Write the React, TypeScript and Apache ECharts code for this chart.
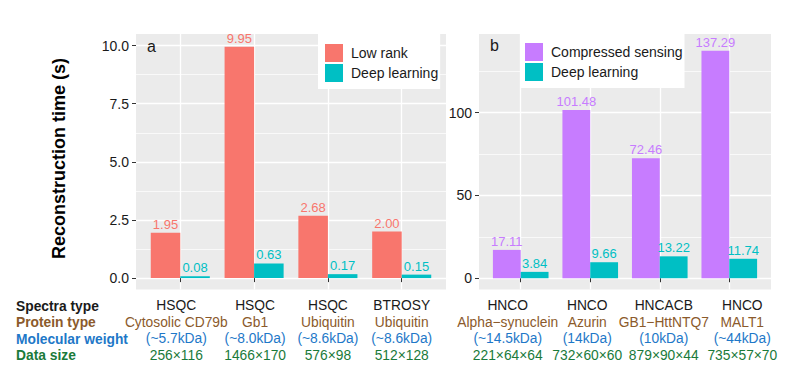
import React, { useEffect, useRef } from "react";
import * as echarts from "echarts";

// ---------- data ----------
const spectraA = ["HSQC", "HSQC", "HSQC", "BTROSY"];
const proteinA = ["Cytosolic CD79b", "Gb1", "Ubiquitin", "Ubiquitin"];
const weightA = ["(~5.7kDa)", "(~8.0kDa)", "(~8.6kDa)", "(~8.6kDa)"];
const sizeA = ["256×116", "1466×170", "576×98", "512×128"];
const lowRank = [1.95, 9.95, 2.68, 2.0];
const deepA = [0.08, 0.63, 0.17, 0.15];

const spectraB = ["HNCO", "HNCO", "HNCACB", "HNCO"];
const proteinB = ["Alpha−synuclein", "Azurin", "GB1−HttNTQ7", "MALT1"];
const weightB = ["(~14.5kDa)", "(14kDa)", "(10kDa)", "(~44kDa)"];
const sizeB = ["221×64×64", "732×60×60", "879×90×44", "735×57×70"];
const compressed = [17.11, 101.48, 72.46, 137.29];
const deepB = [3.84, 9.66, 13.22, 11.74];

const yTicksA = [0, 2.5, 5, 7.5, 10];
const yMinorA = [1.25, 3.75, 6.25, 8.75];
const yTicksB = [0, 50, 100];
const yMinorB = [25, 75, 125];

const rowNames = ["Spectra type", "Protein type", "Molecular weight", "Data size"];

// ---------- style / layout ----------
const FONT = "'Liberation Sans', Arial, sans-serif";
const C_LOW = "#F8766D";
const C_DEEP = "#00BFC4";
const C_CS = "#C77CFF";
const ROW_COLORS = ["#1a1a1a", "#8B5A2B", "#1E78C8", "#1A7A3A"];
const BG = "#EBEBEB";
const LABEL_FS = 13.8;
const LINE_H = 16.5;
// horizontal nudge (px) of each category label block, as in the reference
const shiftA = [-4, 1, 0, 0];
const shiftB = [-13, -3, 4, 13];

const catPos = [1, 2, 3, 4];
const X_MIN = 0.4;
const X_MAX = 4.6;

function pairs(vals: number[]) {
  return vals.map((v, i) => [catPos[i], v]);
}

function makeRich(shift: number[]) {
  const r: any = {};
  ["a", "b", "c", "d"].forEach((k, row) => {
    shift.forEach((s, i) => {
      r[k + i] = {
        color: ROW_COLORS[row],
        fontSize: LABEL_FS,
        lineHeight: LINE_H,
        fontFamily: FONT,
        padding: s >= 0 ? [0, 0, 0, 2 * s] : [0, -2 * s, 0, 0],
      };
    });
  });
  return r;
}

function xLabel(spectra: string[], protein: string[], weight: string[], size: string[]) {
  return (v: number) => {
    const i = Math.round(v) - 1;
    if (i < 0 || i > 3 || Math.abs(v - Math.round(v)) > 1e-6) return "";
    return `{a${i}|${spectra[i]}}\n{b${i}|${protein[i]}}\n{c${i}|${weight[i]}}\n{d${i}|${size[i]}}`;
  };
}

function makeX(gridIndex: number, fmt: (v: number) => string, shift: number[]) {
  return {
    type: "value",
    gridIndex,
    min: X_MIN,
    max: X_MAX,
    axisLine: { show: false },
    axisTick: { show: true, length: 4, customValues: catPos, lineStyle: { color: "#333", width: 1 } },
    axisLabel: {
      // empty sentinel labels at both ends so that no real label is dropped
      customValues: [X_MIN, ...catPos, X_MAX],
      formatter: fmt,
      margin: 8,
      rich: makeRich(shift),
      align: "center",
      hideOverlap: false,
      showMinLabel: false,
      showMaxLabel: false,
    },
    splitLine: { show: true, lineStyle: { color: "#fff", width: 1.3 } },
  };
}

function makeYMajor(gridIndex: number, min: number, max: number, ticks: number[], fmt: (v: number) => string) {
  return {
    type: "value",
    gridIndex,
    min,
    max,
    axisLine: { show: false },
    axisTick: { show: true, length: 4, customValues: ticks, lineStyle: { color: "#333", width: 1 } },
    axisLabel: {
      customValues: ticks,
      formatter: fmt,
      margin: 7,
      color: "#1a1a1a",
      fontSize: 14,
      fontFamily: FONT,
      hideOverlap: false,
    },
    splitLine: { show: true, lineStyle: { color: "#fff", width: 1.3 } },
  };
}

function makeYMinor(gridIndex: number, min: number, max: number, ticks: number[]) {
  return {
    type: "value",
    gridIndex,
    min,
    max,
    axisLine: { show: false },
    axisTick: { show: false, customValues: ticks },
    axisLabel: { show: false, customValues: ticks },
    splitLine: { show: true, lineStyle: { color: "#fff", width: 0.7 } },
  };
}

function barSeries(name: string, vals: number[], color: string, xi: number, yi: number) {
  return {
    name,
    type: "bar",
    xAxisIndex: xi,
    yAxisIndex: yi,
    data: pairs(vals),
    barWidth: "40%",
    barGap: "0%",
    itemStyle: { color },
    label: {
      show: true,
      position: "top",
      distance: 2,
      color,
      fontSize: 13,
      fontFamily: FONT,
      formatter: (p: any) => Number(p.value[1]).toFixed(2),
    },
  };
}

export default function App() {
  const ref = useRef<HTMLDivElement>(null);
  useEffect(() => {
    document.body.style.margin = "0";
    if (!ref.current) return;
    const chart = echarts.init(ref.current, undefined, { renderer: "svg" });
    const rowY = [306, 322.5, 339, 355.5];
    const graphics: any[] = rowNames.map((t, i) => ({
      type: "text",
      x: 16,
      y: rowY[i],
      style: {
        text: t,
        fill: ROW_COLORS[i],
        font: `bold ${LABEL_FS}px ${FONT}`,
        textAlign: "left",
        textVerticalAlign: "middle",
      },
    }));
    graphics.push(
      {
        type: "text",
        x: 59,
        y: 158.5,
        rotation: Math.PI / 2,
        style: {
          text: "Reconstruction time (s)",
          fill: "#000",
          font: `bold 18px ${FONT}`,
          textAlign: "center",
          textVerticalAlign: "middle",
        },
      },
      {
        type: "text",
        x: 147,
        y: 46,
        z: 10,
        style: { text: "a", fill: "#1a1a1a", font: `16px ${FONT}`, textAlign: "left", textVerticalAlign: "middle" },
      },
      {
        type: "text",
        x: 490,
        y: 45,
        z: 10,
        style: { text: "b", fill: "#1a1a1a", font: `16px ${FONT}`, textAlign: "left", textVerticalAlign: "middle" },
      }
    );

    chart.setOption({
      animation: false,
      textStyle: { fontFamily: FONT },
      grid: [
        { left: 136, top: 34, width: 310, height: 255.5, show: true, backgroundColor: BG, borderWidth: 0 },
        { left: 479, top: 34, width: 292, height: 255.5, show: true, backgroundColor: BG, borderWidth: 0 },
      ],
      xAxis: [
        makeX(0, xLabel(spectraA, proteinA, weightA, sizeA), shiftA),
        makeX(1, xLabel(spectraB, proteinB, weightB, sizeB), shiftB),
      ],
      yAxis: [
        makeYMajor(0, -0.49, 10.5, yTicksA, (v: number) => v.toFixed(1)),
        makeYMinor(0, -0.49, 10.5, yMinorA),
        makeYMajor(1, -6.8, 147.4, yTicksB, (v: number) => String(Math.round(v))),
        makeYMinor(1, -6.8, 147.4, yMinorB),
      ],
      legend: [
        {
          data: ["Low rank", "Deep learning"],
          orient: "vertical",
          left: 318,
          top: 34,
          itemWidth: 18,
          itemHeight: 18,
          itemGap: 2,
          icon: "rect",
          padding: [10, 2, 7, 7],
          backgroundColor: "#fff",
          textStyle: { fontSize: 14, color: "#1a1a1a", fontFamily: FONT, padding: [0, 0, 0, 3] },
          selectedMode: false,
        },
        {
          data: ["Compressed sensing", "Deep learning"],
          orient: "vertical",
          left: 521,
          top: 34,
          itemWidth: 18,
          itemHeight: 18,
          itemGap: 2,
          icon: "rect",
          padding: [9, 2, 7, 4],
          backgroundColor: "#fff",
          textStyle: { fontSize: 14, color: "#1a1a1a", fontFamily: FONT, padding: [0, 0, 0, 3] },
          selectedMode: false,
        },
      ],
      series: [
        barSeries("Low rank", lowRank, C_LOW, 0, 0),
        barSeries("Deep learning", deepA, C_DEEP, 0, 0),
        barSeries("Compressed sensing", compressed, C_CS, 1, 2),
        barSeries("Deep learning", deepB, C_DEEP, 1, 2),
      ],
      graphic: graphics,
    });
    return () => chart.dispose();
  }, []);
  return <div ref={ref} style={{ width: 799, height: 383 }} />;
}
